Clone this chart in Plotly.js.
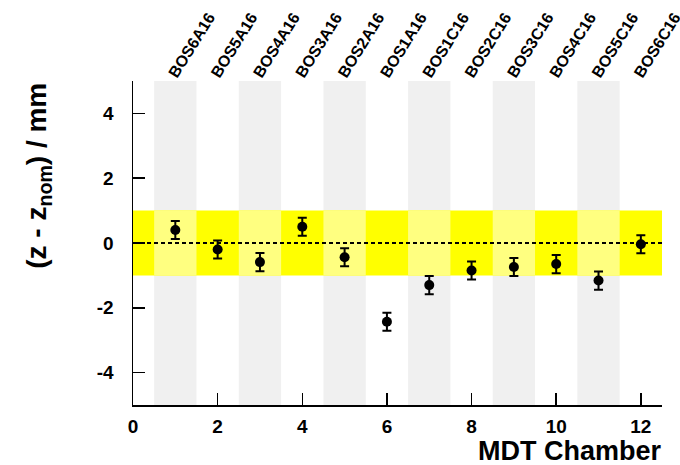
<!DOCTYPE html>
<html>
<head>
<meta charset="utf-8">
<script src="https://cdn.plot.ly/plotly-3.0.1.min.js"></script>
<style>html,body{margin:0;padding:0;background:#fff;}#chart{width:680px;height:465px;}</style>
</head>
<body>
<div id="chart"></div>
<script>
// ---- data ----
var chambers = [1, 2, 3, 4, 5, 6, 7, 8, 9, 10, 11, 12];
var chamberNames = ["BOS6A16", "BOS5A16", "BOS4A16", "BOS3A16", "BOS2A16", "BOS1A16",
                    "BOS1C16", "BOS2C16", "BOS3C16", "BOS4C16", "BOS5C16", "BOS6C16"];
var dz = [0.40, -0.20, -0.59, 0.50, -0.44, -2.43, -1.30, -0.85, -0.74, -0.65, -1.16, -0.04];
var dzErr = [0.28, 0.28, 0.28, 0.28, 0.28, 0.28, 0.28, 0.28, 0.28, 0.28, 0.28, 0.28];
var tolerance = 1.0;
var xTicks = [0, 2, 4, 6, 8, 10, 12];
var yTicks = [-4, -2, 0, 2, 4];
var yTickText = ["-4", "-2", "0", "2", "4"];
var xRange = [0, 12.5];
var yRange = [-5, 5];

var FONT = "Liberation Sans, Arial, Helvetica, sans-serif";

// ---- shapes: alternating chamber columns and tolerance band ----
var shapes = [];
chambers.forEach(function (c) {
  if (c % 2 === 1) {
    shapes.push({type: "rect", xref: "x", yref: "y", layer: "below",
      x0: c - 0.5, x1: c + 0.5, y0: yRange[0], y1: yRange[1],
      fillcolor: "#f0f0f0", line: {width: 0}});
  }
});
shapes.push({type: "rect", xref: "x", yref: "y", layer: "below",
  x0: xRange[0], x1: xRange[1], y0: -tolerance, y1: tolerance,
  fillcolor: "#ffff00", line: {width: 0}});
chambers.forEach(function (c) {
  if (c % 2 === 1) {
    shapes.push({type: "rect", xref: "x", yref: "y", layer: "below",
      x0: c - 0.5, x1: c + 0.5, y0: -tolerance, y1: tolerance,
      fillcolor: "#ffff80", line: {width: 0}});
  }
});
shapes.push({type: "line", xref: "x", yref: "y", layer: "below",
  x0: xRange[0], x1: xRange[1], y0: 0, y1: 0,
  line: {color: "#000", width: 1.8, dash: "4px,3px"}});

var traces = [
  {
    x: chambers, y: dz, type: "scatter", mode: "markers",
    marker: {color: "#000", size: 10},
    error_y: {type: "data", array: dzErr, visible: true, color: "#000", thickness: 2, width: 4.5},
    hoverinfo: "x+y", showlegend: false
  },
  {
    x: chambers, y: dz, xaxis: "x2", type: "scatter", mode: "markers",
    marker: {opacity: 0}, hoverinfo: "skip", showlegend: false
  }
];

var layout = {
  width: 680, height: 465,
  margin: {l: 133, r: 18, t: 81, b: 60, pad: 0},
  paper_bgcolor: "#fff", plot_bgcolor: "#fff",
  showlegend: false,
  font: {family: FONT, color: "#000"},
  xaxis: {
    range: xRange, showgrid: false, zeroline: false,
    showline: true, linecolor: "#000", linewidth: 1.5,
    ticks: "inside", ticklen: 12, tickwidth: 1.5, tickcolor: "#000",
    tickmode: "array", tickvals: xTicks,
    tickfont: {family: FONT, size: 19, weight: "bold", color: "#000"},
    ticklabelstandoff: 4
  },
  xaxis2: {
    overlaying: "x", side: "top", matches: "x", range: xRange,
    showgrid: false, zeroline: false, showline: false, ticks: "",
    tickmode: "array", tickvals: chambers, ticktext: chamberNames,
    tickangle: -58, ticklabeloverflow: "allow",
    tickfont: {family: FONT, size: 16, weight: "bold", color: "#000"},
    ticklabelstandoff: -6, ticklabelshift: -5
  },
  yaxis: {
    range: yRange, showgrid: false, zeroline: false,
    showline: true, linecolor: "#000", linewidth: 1.5,
    ticks: "inside", ticklen: 12, tickwidth: 1.5, tickcolor: "#000",
    tickmode: "array", tickvals: yTicks, ticktext: yTickText,
    tickfont: {family: FONT, size: 19, weight: "bold", color: "#000"},
    ticklabelstandoff: 14
  },
  shapes: shapes,
  annotations: [
    {
      text: "MDT Chamber", xref: "paper", yref: "paper",
      x: 1.004, y: -0.142, xanchor: "right", yanchor: "middle", showarrow: false,
      font: {family: FONT, size: 27, weight: "bold", color: "#000"}
    },
    {
      text: "(z - z<sub>nom</sub>) / mm", xref: "paper", yref: "paper",
      x: -0.18, y: 1.0, xanchor: "center", yanchor: "top", textangle: -90, showarrow: false,
      font: {family: FONT, size: 28, weight: "bold", color: "#000"}
    }
  ]
};

Plotly.newPlot("chart", traces, layout, {staticPlot: true, displayModeBar: false});
</script>
</body>
</html>
